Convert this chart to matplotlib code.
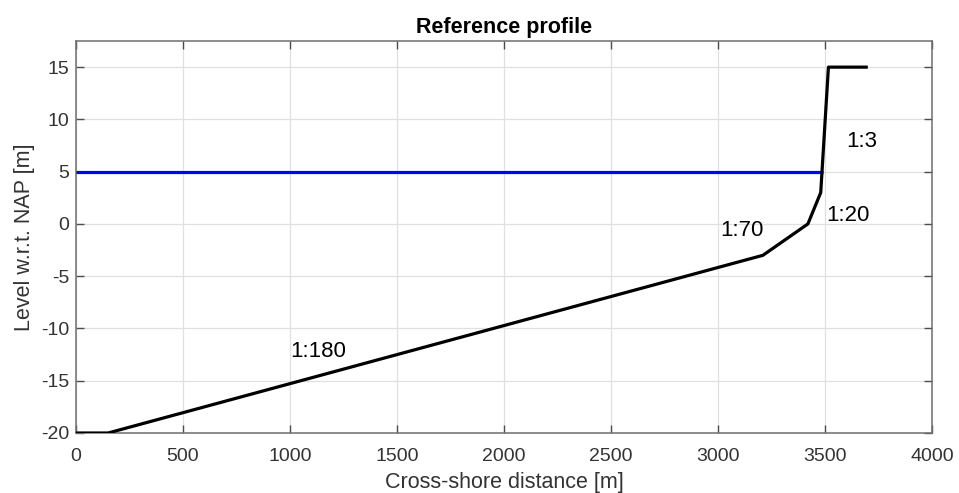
import matplotlib
matplotlib.use("Agg")
import matplotlib.pyplot as plt

plt.rcParams['font.family'] = ['Liberation Sans', 'DejaVu Sans']
plt.rcParams['axes.unicode_minus'] = False

# Cross-shore profile breakpoints (distance [m], level [m NAP])
profile_x = [0, 150, 3210, 3420, 3480, 3516, 3700]
profile_z = [-20, -20, -3, 0, 3, 15, 15]

# Water level line
water_x = [0, 3490]
water_z = [5, 5]

# Slope annotations
slope_labels = ['1:180', '1:70', '1:20', '1:3']
slope_x = [1000, 3010, 3505, 3600]
slope_z = [-12.2, -0.6, 0.85, 7.9]

xticks = [0, 500, 1000, 1500, 2000, 2500, 3000, 3500, 4000]
yticks = [-20, -15, -10, -5, 0, 5, 10, 15]

fig = plt.figure(figsize=(9.59, 4.93), dpi=100)
ax = fig.add_axes([76/959, 1 - 433/493, (932-76)/959, (433-41)/493])

ax.plot(water_x, water_z, color='#0000ff', lw=2.3, solid_capstyle='butt', zorder=3)
ax.plot(profile_x, profile_z, color='black', lw=2.3, solid_capstyle='butt', zorder=4)

for t, x, z in zip(slope_labels, slope_x, slope_z):
    ax.text(x, z, t, fontsize=16, ha='left', va='center', color='black')

ax.set_xlim(0, 4000)
ax.set_ylim(-20, 17.5)
ax.set_xticks(xticks)
ax.set_yticks(yticks)
ax.grid(True, color='#e0e0e0', lw=0.9)
ax.set_axisbelow(True)
ax.tick_params(direction='in', top=True, right=True, length=6, width=1.0,
               colors='#4d4d4d', labelcolor='#333333', labelsize=14)
ax.tick_params(axis='x', pad=11)
ax.tick_params(axis='y', pad=5)
for s in ax.spines.values():
    s.set_color('#6e6e6e')
    s.set_linewidth(1.1)

ax.set_xlabel('Cross-shore distance [m]', fontsize=15.5, color='#333333', labelpad=5)
ax.set_ylabel('Level w.r.t. NAP [m]', fontsize=15.5, color='#333333', labelpad=4)
ax.set_title('Reference profile', fontsize=15.5, fontweight='bold', pad=6)

fig.savefig('out.png', dpi=100)
